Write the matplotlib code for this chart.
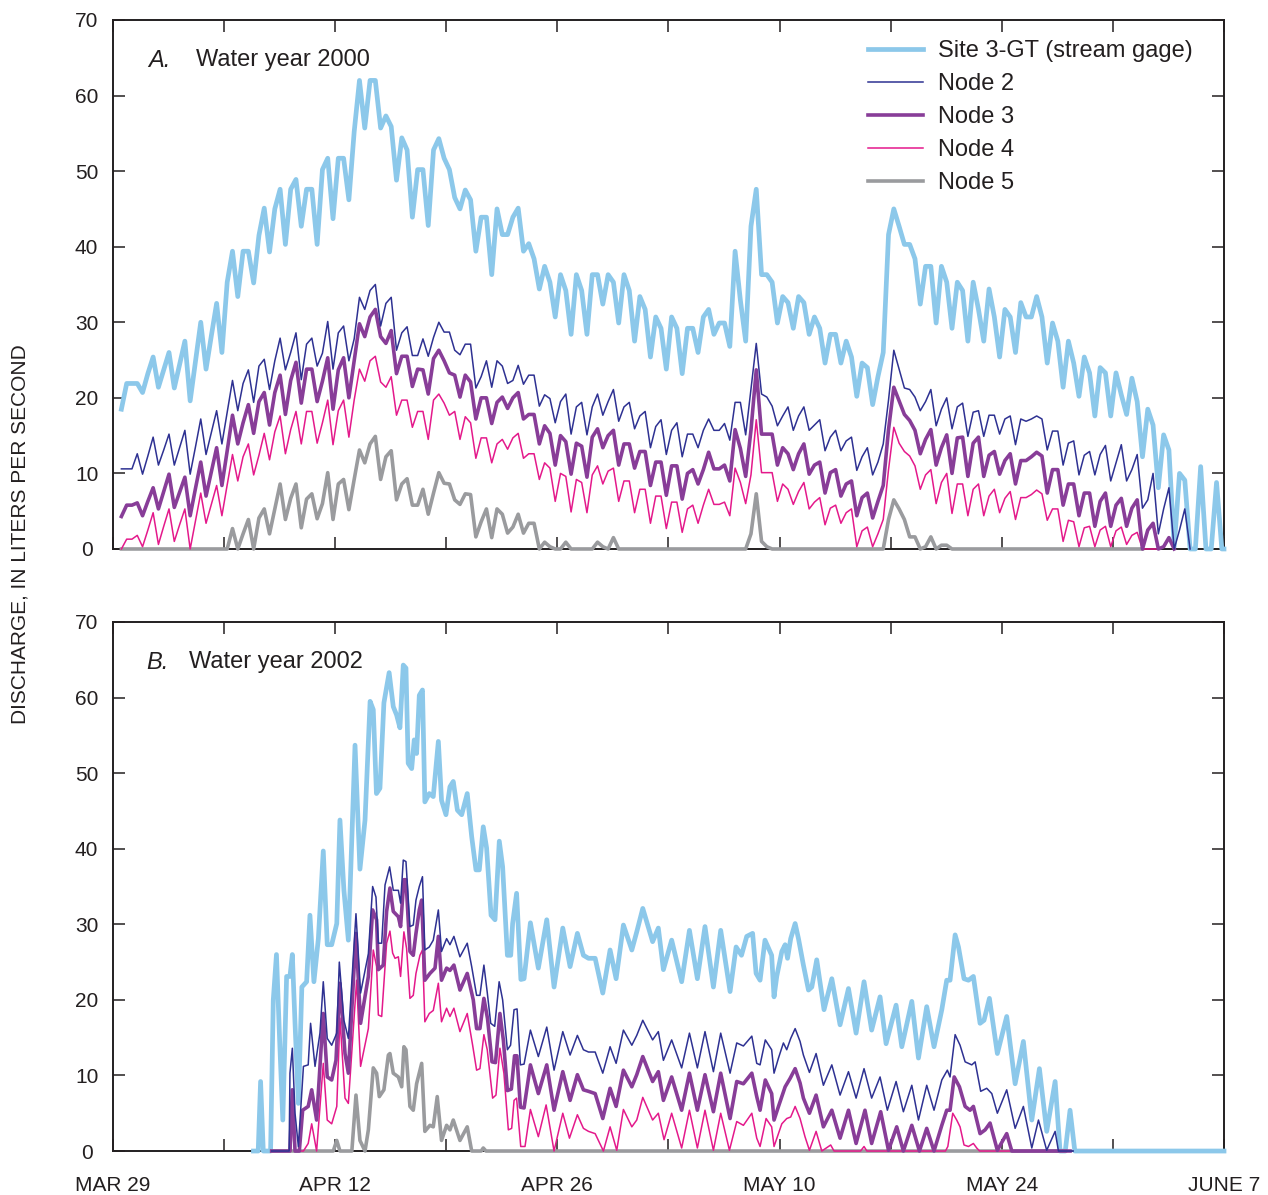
import numpy as np
import matplotlib
matplotlib.use("Agg")
import matplotlib.pyplot as plt

plt.rcParams['font.family'] = ['Liberation Sans', 'DejaVu Sans']

# x axis is days after March 29
tick_days = [0, 7, 14, 21, 28, 35, 42, 49, 56, 63, 70]
tick_labels = ["MAR 29", "", "APR 12", "", "APR 26", "", "MAY 10", "", "MAY 24", "", "JUNE 7"]
y_ticks = [0, 10, 20, 30, 40, 50, 60, 70]

series_labels = ["Site 3-GT (stream gage)", "Node 2", "Node 3", "Node 4", "Node 5"]

# Water year 2000: readings every 8 hours, first one at day 0.53
a_start = 0.53
a_gage = [
    18.5, 21.9,
    21.9, 21.9, 20.7, 23.2, 25.4, 21.4, 23.7, 26.0, 21.3, 24.4, 27.5, 19.6, 24.8, 30.0, 23.8,
    28.2, 32.5, 26.0, 35.3, 39.4, 33.4, 39.4, 39.4, 35.2, 41.5, 45.1, 39.3, 45.0, 47.6, 40.3,
    47.6, 48.9, 42.7, 47.6, 47.6, 40.3, 50.2, 51.7, 43.7, 51.7, 51.7, 46.2, 55.2, 62.0, 55.7,
    62.0, 62.0, 55.7, 57.3, 55.9, 48.8, 54.4, 52.8, 43.9, 50.2, 50.2, 42.8, 52.8, 54.3, 51.7,
    50.2, 46.5, 45.0, 47.5, 46.2, 39.4, 43.9, 43.9, 36.3, 45.0, 41.6, 41.6, 43.9, 45.1, 39.4,
    40.4, 38.4, 34.4, 37.4, 35.3, 30.7, 36.3, 34.2, 28.4, 36.3, 34.2, 28.4, 36.3, 36.3, 32.4,
    36.3, 35.3, 29.9, 36.3, 34.2, 27.5, 33.4, 31.7, 25.4, 30.7, 29.2, 23.8, 30.7, 29.2, 23.2,
    29.2, 29.2, 26.0, 30.7, 31.7, 28.4, 29.9, 29.9, 26.8, 39.4, 32.9, 27.5, 42.7, 47.6, 36.3,
    36.3, 35.3, 29.9, 33.4, 32.6, 29.2, 33.4, 32.6, 28.4, 30.7, 29.2, 24.6, 28.4, 28.4, 24.6,
    27.5, 25.4, 20.2, 24.6, 24.0, 19.1, 22.8, 26.0, 41.6, 45.0, 42.7, 40.3, 40.3, 38.4, 32.4,
    37.4, 37.4, 29.9, 37.4, 35.3, 29.2, 35.3, 34.2, 27.5, 35.3, 31.7, 27.5, 34.4, 30.7, 25.4,
    31.7, 30.7, 26.0, 32.6, 30.7, 30.7, 33.4, 30.7, 24.6, 29.9, 27.5, 21.4, 27.5, 24.6, 20.2,
    25.4, 23.3, 17.6, 24.0, 23.3, 17.6, 23.3, 20.4, 17.8, 22.6, 19.5, 12.2, 18.5, 16.4, 8.1,
    15.1, 13.1, 0.3, 10.0, 9.1, 0.0, 0.0, 10.9, 0.0, 0.0, 8.8, 0.0,
    0.0]
a_node2 = [
    10.6, 10.6,
    10.6, 12.6, 9.9, 12.3, 14.8, 11.1, 13.1, 15.2, 11.1, 13.4, 15.7, 9.9, 13.5, 17.2, 12.5,
    15.4, 18.3, 13.9, 18.1, 22.3, 18.3, 21.9, 23.7, 19.4, 24.2, 25.1, 21.1, 24.9, 27.9, 23.7,
    26.0, 28.6, 22.4, 27.1, 27.9, 24.2, 25.9, 30.1, 23.8, 28.6, 29.5, 24.9, 27.8, 33.3, 31.7,
    34.2, 35.0, 29.5, 32.5, 33.3, 26.3, 28.6, 29.4, 25.6, 25.6, 27.8, 25.5, 28.0, 30.0, 28.7,
    28.7, 26.3, 25.7, 27.1, 27.1, 21.3, 22.8, 24.9, 21.4, 24.9, 24.2, 21.9, 22.3, 24.3, 21.8,
    23.0, 23.0, 18.9, 20.4, 19.9, 16.7, 19.5, 20.5, 15.2, 18.8, 19.4, 15.1, 18.8, 20.5, 17.7,
    19.5, 21.1, 16.9, 18.8, 19.4, 15.9, 17.6, 18.2, 13.4, 16.2, 17.1, 12.5, 15.7, 16.7, 12.2,
    15.2, 15.2, 13.4, 15.7, 17.2, 15.7, 15.7, 16.6, 14.4, 19.4, 19.4, 15.1, 21.2, 27.2, 20.5,
    20.1, 18.9, 16.3, 17.6, 18.8, 15.7, 17.6, 18.8, 15.7, 16.4, 17.1, 13.0, 14.8, 15.7, 13.0,
    14.3, 14.8, 10.4, 12.2, 13.4, 9.8, 11.5, 13.9, 19.7, 26.3, 23.8, 21.3, 21.1, 20.1, 18.3,
    19.5, 21.1, 16.3, 18.5, 20.0, 15.9, 18.8, 19.3, 14.9, 18.1, 18.3, 14.9, 17.7, 17.7, 15.2,
    17.2, 17.6, 13.8, 17.2, 16.9, 17.2, 17.6, 17.2, 13.1, 15.6, 15.6, 11.1, 14.0, 14.3, 9.8,
    12.4, 12.9, 9.8, 12.5, 13.7, 9.0, 11.4, 13.8, 9.0, 10.5, 12.5, 5.4, 6.5, 10.0, 2.0,
    5.3, 8.1, 0.0, 2.5, 5.3, 0.0]
a_node3 = [
    4.3, 5.8,
    5.8, 6.1, 4.4, 6.3, 8.1, 5.3, 7.6, 9.9, 5.5, 7.5, 9.5, 4.4, 8.0, 11.5, 7.0,
    10.2, 13.4, 8.4, 13.0, 17.7, 13.9, 16.7, 19.1, 15.3, 19.5, 20.7, 16.4, 20.7, 23.0, 17.8,
    22.3, 24.7, 19.3, 23.8, 23.8, 19.5, 22.2, 25.3, 18.5, 23.7, 25.3, 20.0, 24.9, 29.8, 28.1,
    30.7, 31.7, 28.1, 27.2, 28.9, 23.2, 25.5, 25.5, 21.5, 23.8, 23.7, 20.5, 25.2, 26.3, 24.9,
    23.3, 23.0, 20.1, 23.0, 22.1, 17.2, 20.0, 20.0, 16.6, 19.4, 20.1, 18.6, 20.0, 20.7, 17.2,
    17.8, 17.8, 13.9, 16.3, 15.3, 11.1, 15.0, 14.2, 9.9, 14.0, 13.6, 9.5, 14.8, 15.9, 13.4,
    15.0, 15.7, 11.1, 13.9, 13.9, 10.7, 12.9, 12.9, 8.4, 11.5, 11.5, 7.1, 11.0, 11.0, 6.6,
    10.0, 10.5, 8.6, 10.5, 12.8, 10.6, 10.6, 11.1, 9.0, 15.8, 13.3, 9.6, 15.7, 23.7, 15.2,
    15.2, 15.2, 11.1, 13.4, 12.6, 10.5, 12.6, 13.9, 9.9, 11.1, 11.5, 7.4, 10.1, 10.5, 7.0,
    8.6, 9.0, 4.4, 6.8, 7.4, 4.1, 6.3, 8.4, 15.8, 21.4, 19.6, 17.8, 17.0, 15.7, 12.6,
    14.5, 15.8, 11.1, 13.4, 15.1, 10.0, 14.7, 14.8, 9.6, 14.0, 14.8, 9.6, 12.4, 12.9, 9.9,
    11.7, 12.6, 8.6, 11.7, 11.7, 12.2, 12.8, 12.3, 7.4, 10.5, 10.5, 5.8, 8.6, 8.6, 4.4,
    7.4, 7.4, 3.0, 6.3, 7.4, 3.0, 5.8, 6.7, 3.0, 5.4, 6.5, 0.0, 2.5, 3.4, 0.0,
    0.3, 1.5, 0.0]
a_node4 = [
    0.0, 1.3,
    1.3, 1.8, 0.3, 2.5, 4.8, 0.6, 3.0, 5.3, 1.0, 3.2, 5.3, 0.0, 3.7, 7.4, 3.4,
    5.9, 8.4, 4.4, 8.5, 12.5, 9.0, 12.2, 13.9, 9.8, 12.4, 15.3, 11.8, 15.5, 17.6, 12.6,
    15.8, 18.2, 13.9, 18.2, 18.2, 14.0, 16.7, 19.7, 13.8, 18.3, 19.7, 14.8, 19.7, 23.8, 22.2,
    24.9, 25.5, 22.1, 21.4, 22.8, 17.7, 19.7, 19.7, 16.1, 18.2, 18.2, 14.5, 19.7, 20.5, 19.3,
    17.7, 18.2, 14.5, 17.5, 16.7, 12.0, 14.7, 14.7, 11.4, 13.9, 14.5, 13.2, 14.7, 15.3, 12.0,
    12.6, 12.6, 9.2, 11.4, 10.7, 6.3, 10.0, 9.6, 4.9, 9.2, 8.8, 4.8, 9.8, 11.0, 8.6,
    10.3, 10.7, 6.3, 9.0, 9.0, 4.8, 7.9, 7.9, 3.4, 7.0, 7.0, 2.7, 6.2, 6.2, 2.2,
    5.3, 5.8, 3.4, 5.8, 7.9, 5.9, 5.9, 6.2, 4.4, 10.7, 8.8, 6.0, 9.8, 17.1, 10.1,
    10.1, 10.1, 6.3, 8.6, 7.9, 5.9, 7.6, 8.8, 5.3, 6.2, 6.8, 3.2, 5.4, 5.8, 3.4,
    4.8, 5.3, 0.3, 2.4, 2.9, 0.3, 2.0, 3.9, 10.5, 16.1, 14.0, 12.9, 12.3, 11.0, 7.9,
    9.8, 10.5, 6.0, 8.8, 10.0, 4.7, 8.6, 8.6, 4.4, 7.9, 8.6, 4.4, 7.0, 7.9, 4.8,
    6.7, 7.6, 3.9, 6.8, 6.8, 7.2, 7.8, 7.3, 3.8, 5.3, 5.3, 1.0, 3.8, 3.6, 0.3,
    2.8, 3.0, 0.3, 2.5, 3.0, 0.3, 2.4, 2.9, 0.6, 1.8, 2.2, 0.0, 0.0, 0.0, 0.0]
a_node5 = [
    0.0, 0.0,
    0.0, 0.0, 0.0, 0.0, 0.0, 0.0, 0.0, 0.0, 0.0, 0.0, 0.0, 0.0, 0.0, 0.0, 0.0,
    0.0, 0.0, 0.0, 0.0, 2.7, 0.0, 2.0, 3.9, 0.0, 4.1, 5.3, 2.0, 5.3, 8.6, 3.9,
    6.7, 8.6, 2.8, 6.6, 7.3, 4.0, 6.0, 10.1, 3.9, 8.6, 9.2, 5.2, 9.2, 13.1, 11.4,
    13.9, 14.9, 9.2, 12.2, 13.0, 6.5, 8.6, 9.3, 5.8, 5.8, 7.9, 4.6, 7.4, 10.1, 8.7,
    8.6, 6.5, 5.9, 7.3, 7.2, 1.6, 3.6, 5.3, 1.5, 5.3, 4.6, 2.1, 2.9, 4.6, 2.1,
    3.4, 3.4, 0.0, 0.9, 0.3, 0.0, 0.0, 0.9, 0.0, 0.0, 0.0, 0.0, 0.0, 0.9, 0.3,
    0.0, 1.5, 0.0, 0.0, 0.0, 0.0, 0.0, 0.0, 0.0, 0.0, 0.0, 0.0, 0.0, 0.0, 0.0,
    0.0, 0.0, 0.0, 0.0, 0.0, 0.0, 0.0, 0.0, 0.0, 0.0, 0.0, 0.0, 2.0, 7.3, 1.0,
    0.3, 0.0, 0.0, 0.0, 0.0, 0.0, 0.0, 0.0, 0.0, 0.0, 0.0, 0.0, 0.0, 0.0, 0.0,
    0.0, 0.0, 0.0, 0.0, 0.0, 0.0, 0.0, 0.0, 3.9, 6.5, 5.3, 3.9, 1.6, 1.6, 0.0,
    0.3, 1.6, 0.0, 0.5, 0.5, 0.0, 0.0, 0.0, 0.0, 0.0, 0.0, 0.0, 0.0, 0.0, 0.0,
    0.0, 0.0, 0.0, 0.0, 0.0, 0.0, 0.0, 0.0, 0.0, 0.0, 0.0, 0.0, 0.0, 0.0, 0.0,
    0.0, 0.0, 0.0, 0.0, 0.0, 0.0, 0.0, 0.0, 0.0, 0.0, 0.0, 0.0]

# Water year 2002: (day, discharge) pairs
b_gage = [
    (8.85, 0), (9.15, 0), (9.3, 9.2), (9.47, 0), (9.93, 0), (10.1, 20), (10.3, 26), (10.5, 14.7),
    (10.7, 4.1), (10.94, 23.1), (11.15, 23.1), (11.3, 26), (11.47, 16.9), (11.68, 6.3), (11.9, 21.7),
    (12.2, 22.4), (12.41, 31.2), (12.66, 22.4), (12.94, 28.1), (13.25, 39.7), (13.5, 27.3),
    (13.78, 27.3), (14.1, 30.1), (14.3, 43.8), (14.55, 34.5), (14.83, 27.9), (15.25, 53.7),
    (15.56, 37.3), (15.88, 43.8), (16.2, 59.5), (16.4, 58.4), (16.6, 47.3), (16.82, 48.0),
    (17.07, 59.3), (17.4, 63.3), (17.66, 58.8), (17.87, 57.7), (18.08, 56.0), (18.29, 64.3),
    (18.46, 63.9), (18.6, 51.3), (18.82, 50.6), (18.98, 54.4), (19.13, 52.6), (19.3, 60.3),
    (19.5, 61.0), (19.65, 46.2), (19.93, 47.3), (20.18, 46.9), (20.5, 54.2), (20.7, 46.4),
    (20.98, 44.5), (21.23, 48.2), (21.44, 48.9), (21.7, 45.1), (21.97, 44.5), (22.32, 47.3),
    (22.6, 41.6), (22.87, 37.2), (23.08, 37.2), (23.33, 42.9), (23.54, 40.1), (23.82, 31.2),
    (24.07, 30.6), (24.34, 41.0), (24.55, 37.6), (24.85, 25.9), (25.06, 25.9), (25.18, 30.1),
    (25.43, 34.1), (25.7, 22.7), (25.9, 22.8), (26.3, 30.2), (26.8, 24.2), (27.33, 30.6),
    (27.79, 21.7), (28.34, 29.5), (28.8, 24.4), (29.26, 28.8), (29.64, 25.9), (29.96, 25.5),
    (30.38, 25.5), (30.86, 20.9), (31.32, 26.6), (31.7, 22.8), (32.16, 29.9), (32.69, 26.6),
    (33.0, 29.0), (33.38, 32.1), (34.0, 27.7), (34.36, 29.5), (34.68, 24.0), (35.2, 27.9),
    (35.83, 22.4), (36.32, 29.2), (36.82, 22.8), (37.3, 29.7), (37.83, 21.7), (38.29, 29.2),
    (38.88, 21.1), (39.26, 27.0), (39.6, 25.9), (39.93, 28.4), (40.3, 28.8), (40.52, 23.5),
    (40.77, 22.6), (41.08, 27.9), (41.5, 25.9), (41.65, 20.4), (41.82, 23.1), (42.14, 26.4),
    (42.35, 27.3), (42.5, 25.5), (42.7, 28.1), (42.98, 30.1), (43.19, 28.1), (43.5, 24.6),
    (43.82, 21.3), (44.03, 21.7), (44.34, 25.3), (44.8, 18.7), (45.29, 22.8), (45.81, 16.7),
    (46.34, 21.5), (46.82, 15.6), (47.32, 22.4), (47.8, 16.0), (48.33, 20.4), (48.71, 14.2),
    (49.34, 19.3), (49.7, 13.8), (50.33, 19.8), (50.75, 12.3), (51.27, 19.1), (51.73, 13.8),
    (52.22, 18.7), (52.53, 22.6), (52.74, 22.6), (53.06, 28.6), (53.27, 27.0), (53.62, 22.8),
    (53.9, 22.6), (54.21, 23.1), (54.63, 16.9), (54.88, 17.3), (55.22, 20.2), (55.72, 12.9),
    (56.31, 17.8), (56.84, 8.9), (57.36, 14.5), (57.89, 4.1), (58.37, 10.9), (58.83, 2.6),
    (59.36, 9.2), (59.67, 0), (60.0, 0), (60.3, 5.4), (60.6, 0), (70.0, 0)]
b_node2 = [
    (10.0, 0), (11.1, 0), (11.15, 10.3), (11.3, 13.6), (11.47, 5.0), (11.68, 0.6), (12.0, 11.2),
    (12.3, 11.4), (12.45, 16.9), (12.73, 11.2), (13.04, 15.6), (13.25, 22.4), (13.5, 14.9),
    (13.78, 14.0), (14.1, 15.6), (14.26, 25.0), (14.55, 17.3), (14.83, 14.9), (15.31, 31.4),
    (15.6, 20.9), (16.09, 26.1), (16.36, 35.0), (16.57, 33.6), (16.72, 27.5), (16.93, 27.5),
    (17.14, 35.2), (17.43, 37.6), (17.66, 34.5), (17.98, 34.5), (18.12, 32.8), (18.29, 38.5),
    (18.46, 38.3), (18.71, 29.7), (18.92, 29.9), (19.09, 33.2), (19.3, 35.0), (19.5, 36.3),
    (19.65, 26.6), (19.93, 27.0), (20.18, 27.9), (20.5, 31.9), (20.7, 26.4), (21.02, 28.1),
    (21.23, 27.3), (21.48, 28.4), (21.86, 25.7), (22.32, 27.5), (22.6, 24.4), (22.91, 20.6),
    (23.12, 20.6), (23.37, 24.6), (23.58, 21.0), (23.8, 16.9), (24.05, 16.5), (24.33, 22.4),
    (24.55, 20.0), (24.85, 13.4), (25.05, 14.0), (25.27, 18.7), (25.46, 18.8), (25.67, 11.4),
    (25.9, 11.5), (26.3, 16.0), (26.8, 12.5), (27.33, 16.4), (27.79, 10.7), (28.34, 15.8),
    (28.8, 12.7), (29.26, 15.3), (29.64, 13.4), (29.96, 13.1), (30.38, 13.1), (30.86, 10.3),
    (31.32, 13.8), (31.7, 11.6), (32.16, 16.0), (32.69, 14.0), (33.0, 15.3), (33.38, 17.3),
    (34.0, 14.7), (34.36, 15.8), (34.68, 12.0), (35.2, 14.7), (35.83, 11.0), (36.32, 15.6),
    (36.82, 11.0), (37.3, 15.8), (37.83, 10.5), (38.29, 15.6), (38.88, 10.3), (39.3, 14.3),
    (39.72, 13.9), (40.25, 15.2), (40.56, 11.6), (40.77, 11.4), (41.1, 14.7), (41.5, 13.4),
    (41.65, 10.3), (41.93, 12.3), (42.24, 14.3), (42.45, 13.4), (42.7, 14.9), (42.98, 16.2),
    (43.29, 14.5), (43.5, 12.7), (43.88, 10.4), (44.3, 12.9), (44.76, 8.7), (45.29, 11.4),
    (45.81, 7.4), (46.34, 10.5), (46.82, 7.0), (47.32, 10.9), (47.8, 7.0), (48.33, 9.8),
    (48.79, 5.4), (49.34, 9.2), (49.8, 5.2), (50.33, 8.7), (50.75, 4.1), (51.27, 8.7),
    (51.73, 5.4), (52.22, 9.4), (52.57, 10.7), (52.74, 9.8), (53.06, 15.4), (53.37, 14.0),
    (53.69, 11.8), (54.11, 11.4), (54.32, 11.8), (54.67, 7.9), (55.05, 8.3), (55.37, 7.6),
    (55.72, 5.0), (56.31, 8.1), (56.84, 3.0), (57.36, 5.9), (57.89, 0.4), (58.31, 4.1),
    (58.83, 0.1), (59.36, 2.6), (59.57, 0), (60.5, 0)]
b_node3 = [
    (10.0, 0), (11.15, 0), (11.3, 8.1), (11.47, 0), (11.74, 0), (11.95, 5.4), (12.3, 5.9),
    (12.52, 8.1), (12.83, 4.1), (13.25, 18.2), (13.5, 9.8), (13.78, 9.4), (14.05, 12.0),
    (14.3, 22.2), (14.62, 12.9), (14.83, 10.3), (15.31, 28.8), (15.6, 16.9), (16.09, 23.1),
    (16.36, 31.9), (16.61, 30.6), (16.72, 24.0), (17.03, 24.6), (17.24, 31.7), (17.45, 34.8),
    (17.66, 31.7), (17.98, 31.0), (18.12, 29.7), (18.33, 35.9), (18.46, 35.9), (18.71, 26.4),
    (18.92, 25.9), (19.09, 28.8), (19.3, 31.9), (19.45, 33.2), (19.65, 22.6), (19.97, 23.5),
    (20.29, 24.2), (20.5, 28.4), (20.7, 22.6), (21.02, 24.2), (21.23, 23.9), (21.48, 24.6),
    (21.86, 21.3), (22.32, 23.5), (22.7, 20.0), (22.91, 16.2), (23.12, 16.2), (23.37, 20.2),
    (23.6, 17.5), (23.88, 11.8), (24.1, 11.7), (24.38, 18.2), (24.6, 14.6), (24.85, 8.0),
    (25.1, 8.2), (25.3, 12.6), (25.45, 12.6), (25.67, 5.8), (25.9, 5.7), (26.3, 11.4),
    (26.8, 7.6), (27.33, 11.4), (27.79, 5.4), (28.34, 10.5), (28.8, 6.7), (29.26, 10.1),
    (29.64, 8.1), (29.96, 7.9), (30.38, 7.6), (30.86, 4.3), (31.32, 8.3), (31.7, 5.9),
    (32.16, 10.7), (32.69, 8.5), (33.0, 10.1), (33.38, 12.5), (34.0, 9.2), (34.36, 10.5),
    (34.68, 6.7), (35.2, 9.8), (35.83, 5.4), (36.32, 10.3), (36.82, 5.4), (37.3, 10.1),
    (37.83, 5.2), (38.29, 10.3), (38.88, 4.3), (39.3, 9.2), (39.72, 8.9), (40.25, 10.3),
    (40.56, 7.2), (40.77, 5.4), (41.1, 9.4), (41.5, 7.6), (41.65, 4.1), (41.93, 5.9),
    (42.35, 8.5), (42.66, 9.6), (42.98, 10.9), (43.29, 9.0), (43.5, 7.0), (43.88, 5.0),
    (44.3, 7.4), (44.76, 3.2), (45.29, 5.4), (45.81, 1.7), (46.34, 5.4), (46.82, 1.0),
    (47.38, 5.4), (47.8, 1.0), (48.37, 5.2), (48.86, 0.1), (49.38, 3.2), (49.8, 0),
    (50.33, 3.4), (50.81, 0), (51.27, 3.0), (51.73, 0), (52.22, 3.4), (52.53, 5.4),
    (52.74, 5.4), (53.0, 9.8), (53.33, 8.5), (53.69, 5.9), (54.0, 5.4), (54.21, 5.9),
    (54.63, 2.3), (54.95, 2.8), (55.26, 3.7), (55.72, 0.1), (56.31, 2.3), (56.63, 0), (60.3, 0)]
b_node4 = [
    (10.0, 0), (11.2, 0), (11.32, 4.3), (11.5, 0), (12.0, 0), (12.3, 1.0), (12.52, 3.6),
    (12.83, 0), (13.25, 11.6), (13.5, 4.1), (13.78, 3.6), (14.1, 5.9), (14.3, 17.6), (14.62, 7.0),
    (14.83, 6.3), (15.35, 22.6), (15.6, 11.2), (16.09, 16.2), (16.4, 26.6), (16.61, 24.4),
    (16.72, 18.0), (16.93, 17.8), (17.24, 27.5), (17.45, 29.1), (17.62, 26.2), (17.77, 25.5),
    (17.98, 25.7), (18.12, 23.1), (18.33, 29.0), (18.5, 26.8), (18.71, 20.2), (18.92, 20.6),
    (19.09, 23.5), (19.34, 25.9), (19.5, 26.6), (19.65, 17.1), (19.93, 18.2), (20.18, 18.6),
    (20.5, 22.2), (20.7, 17.1), (21.02, 18.9), (21.23, 17.8), (21.48, 18.9), (21.86, 15.8),
    (22.32, 18.2), (22.66, 14.0), (22.91, 10.7), (23.12, 10.9), (23.37, 15.4), (23.58, 13.4),
    (23.92, 7.0), (24.13, 7.4), (24.38, 13.6), (24.63, 10.3), (24.91, 2.8), (25.12, 3.0),
    (25.27, 6.7), (25.43, 7.0), (25.69, 0.6), (25.96, 0.6), (26.3, 5.5), (26.8, 1.9),
    (27.29, 6.1), (27.79, 0), (28.34, 5.0), (28.76, 1.7), (29.26, 4.8), (29.64, 3.0),
    (29.96, 2.6), (30.38, 2.3), (30.9, 0), (31.32, 3.2), (31.74, 0.1), (32.16, 5.5),
    (32.69, 3.2), (33.0, 4.1), (33.38, 7.1), (34.0, 4.1), (34.36, 5.0), (34.72, 1.5),
    (35.2, 5.0), (35.83, 0.4), (36.32, 5.4), (36.82, 0.4), (37.3, 5.4), (37.83, 0.1),
    (38.29, 5.0), (38.84, 0.1), (39.3, 3.9), (39.72, 3.4), (40.25, 5.0), (40.56, 1.7),
    (40.77, 0.6), (41.15, 4.3), (41.5, 3.2), (41.65, 0.6), (42.14, 3.6), (42.45, 4.3),
    (42.7, 4.5), (42.98, 5.9), (43.29, 4.3), (43.6, 1.9), (43.88, 0.1), (44.3, 2.6),
    (44.66, 0), (45.22, 0.8), (45.43, 0), (47.1, 0), (47.32, 0.6), (47.5, 0), (52.45, 0),
    (52.6, 0.6), (52.91, 5.0), (53.16, 4.1), (53.37, 3.2), (53.62, 0.8), (53.9, 0.6),
    (54.21, 1.0), (54.42, 0.4), (54.6, 0), (60.0, 0)]
b_node5 = [
    (10.0, 0), (13.88, 0), (14.1, 1.4), (14.3, 0), (15.05, 0), (15.31, 7.4), (15.56, 1.4),
    (15.88, 0), (16.09, 2.8), (16.4, 11.0), (16.61, 10.3), (16.78, 7.2), (17.07, 8.1),
    (17.35, 12.7), (17.45, 12.9), (17.66, 10.3), (17.98, 9.8), (18.19, 8.5), (18.33, 13.8),
    (18.46, 13.4), (18.71, 5.9), (18.92, 5.4), (19.13, 8.9), (19.45, 11.6), (19.65, 2.6),
    (19.97, 3.4), (20.18, 3.2), (20.43, 7.2), (20.7, 1.4), (21.02, 3.4), (21.23, 2.8),
    (21.44, 4.1), (21.86, 1.4), (22.32, 3.2), (22.6, 0), (23.2, 0), (23.33, 0.4), (23.5, 0),
    (60.0, 0)]

# colour, width, stacking order (gage at the bottom, Node 2 on top)
styles = [
    dict(color='#8cc8ea', lw=3.4, zorder=3.0),
    dict(color='#2e3192', lw=1.1, zorder=3.4),
    dict(color='#883d98', lw=2.6, zorder=3.3),
    dict(color='#e4198b', lw=1.1, zorder=3.2),
    dict(color='#9a9b9e', lw=2.6, zorder=3.1),
]
text_color = '#231f20'


def grid_days(values, start):
    # 8-hour readings, last one pinned to the right edge
    return np.minimum(start + np.arange(len(values)) / 3.0, 70)


def style_axes(ax, show_xlabels):
    ax.set_xlim(0, 70)
    ax.set_ylim(0, 70)
    ax.set_xticks(tick_days)
    ax.set_yticks(y_ticks)
    ax.set_yticklabels([str(v) for v in y_ticks])
    if show_xlabels:
        ax.set_xticklabels(tick_labels)
    else:
        ax.set_xticklabels([])
    ax.tick_params(direction='in', length=8.6, width=1.1, top=True, right=True,
                   labelsize=15, colors=text_color)
    ax.tick_params(axis='y', pad=19)
    ax.tick_params(axis='x', pad=18)
    for lab in ax.get_yticklabels():
        lab.set_horizontalalignment('center')
    for spine in ax.spines.values():
        spine.set_linewidth(1.4)
        spine.set_color(text_color)


def panel_title(ax, letter, title, x_letter, x_title):
    ax.text(x_letter, 0.924, letter, transform=ax.transAxes, fontsize=17,
            style='italic', va='center', ha='left', color=text_color)
    ax.text(x_title, 0.924, title, transform=ax.transAxes, fontsize=17,
            va='center', ha='left', color=text_color)


def main():
    fig = plt.figure(figsize=(12.68, 11.95), dpi=100)
    ax_a = fig.add_axes([0.0891, 0.5406, 0.8762, 0.4427])
    ax_b = fig.add_axes([0.0891, 0.0368, 0.8762, 0.4427])

    # Panel A
    handles = []
    for vals, label, st in zip([a_gage, a_node2, a_node3, a_node4, a_node5], series_labels, styles):
        line, = ax_a.plot(grid_days(vals, a_start), vals, label=label, clip_on=False, **st)
        handles.append(line)

    # Panel B
    for pairs, st in zip([b_gage, b_node2, b_node3, b_node4, b_node5], styles):
        days = [p[0] for p in pairs]
        vals = [p[1] for p in pairs]
        ax_b.plot(days, vals, clip_on=False, **st)

    style_axes(ax_a, False)
    style_axes(ax_b, True)

    panel_title(ax_a, "A.", "Water year 2000", 0.0315, 0.0747)
    panel_title(ax_b, "B.", "Water year 2002", 0.0297, 0.0684)

    leg = ax_a.legend(handles=handles, loc='upper left', bbox_to_anchor=(0.6796, 0.962),
                      frameon=False, fontsize=17, handlelength=2.33, handletextpad=0.62,
                      labelspacing=0.47, borderpad=0, borderaxespad=0)
    for txt in leg.get_texts():
        txt.set_color(text_color)

    fig.text(0.0158, 0.553, "DISCHARGE, IN LITERS PER SECOND", rotation=90,
             ha='center', va='center', fontsize=15, color=text_color)

    fig.savefig("out.png", dpi=100)
    plt.close(fig)


if __name__ == "__main__":
    main()
